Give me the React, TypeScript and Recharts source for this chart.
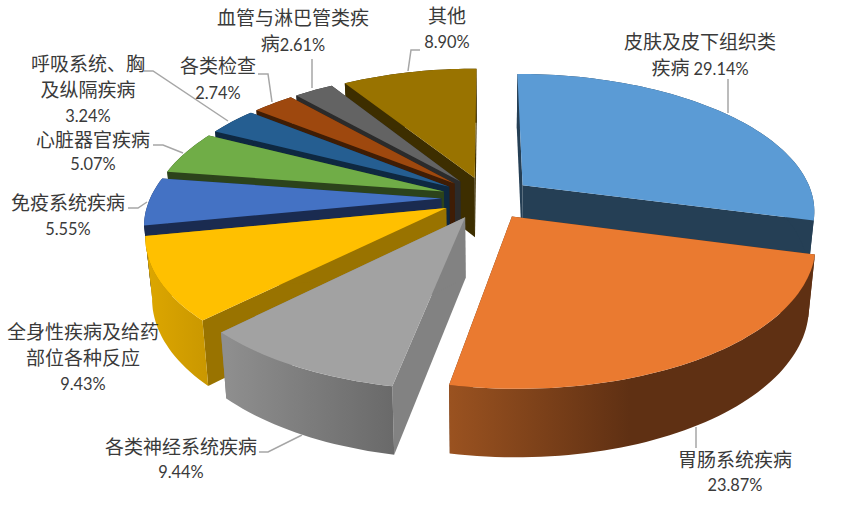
import { PieChart, Pie } from "recharts"

const categories = [
  "皮肤及皮下组织类疾病",
  "胃肠系统疾病",
  "各类神经系统疾病",
  "全身性疾病及给药部位各种反应",
  "免疫系统疾病",
  "心脏器官疾病",
  "呼吸系统、胸及纵隔疾病",
  "各类检查",
  "血管与淋巴管类疾病",
  "其他",
]
const shares = [29.14, 23.87, 9.44, 9.43, 5.55, 5.07, 3.24, 2.74, 2.61, 8.9]
const labelText = [
  ["皮肤及皮下组织类", "疾病 29.14%"],
  ["胃肠系统疾病", "23.87%"],
  ["各类神经系统疾病", "9.44%"],
  ["全身性疾病及给药", "部位各种反应", "9.43%"],
  ["免疫系统疾病", "5.55%"],
  ["心脏器官疾病", "5.07%"],
  ["呼吸系统、胸", "及纵隔疾病", "3.24%"],
  ["各类检查", "2.74%"],
  ["血管与淋巴管类疾", "病2.61%"],
  ["其他", "8.90%"],
]
const topColors = ["#5B9BD5", "#EA7A30", "#A2A2A2", "#FFC000", "#4472C4", "#70AD47", "#255E91", "#9E480E", "#636363", "#997300"]
const wallColors = ["#253F55", "#5F3013", "#828282", "#997300", "#1A2B50", "#2C431B", "#0E2841", "#3F1D05", "#2B2B2B", "#3D2E00"]

// back slices first so the near ones paint over them
const drawOrder = [9, 8, 7, 6, 5, 4, 3, 2, 0, 1]

// where each label sits: centre x, first baseline y, row gap, then its leader line
const labelLayout: { x: number; y: number; gap: number; line: string }[] = [
  { x: 700, y: 49, gap: 25.5, line: "728,113 728,79" },
  { x: 735, y: 467, gap: 24, line: "696,427 696,448" },
  { x: 181, y: 454, gap: 24, line: "302,435 268,452 259,452" },
  { x: 83, y: 339, gap: 25.5, line: "" },
  { x: 68, y: 210, gap: 24.5, line: "128,208 138,208 147,202" },
  { x: 93, y: 147, gap: 23, line: "153,145 163,145 183,153" },
  { x: 88, y: 71, gap: 25.5, line: "144,71 153,71 228,121" },
  { x: 218, y: 73, gap: 26, line: "258,74 268,74 272,102" },
  { x: 293, y: 25, gap: 25.5, line: "312,59 312,88" },
  { x: 447, y: 23, gap: 25, line: "420,50 411,50 408,71" },
]

const rimGradients: Record<number, [string, string, number, number]> = {
  1: ["#9A5220", "#5F3013", 450, 630],
  2: ["#8E8E8E", "#696969", 228, 396],
  3: ["#DDA700", "#C99700", 145, 210],
}

const EXPLODE = 0.157
const TILT = 0.464
const PERSPECTIVE = 0.175

function Slice(props: any, i: number) {
  const { cx, cy, outerRadius, startAngle, endAngle } = props
  const plane = (deg: number) => {
    const t = ((90 - deg) * Math.PI) / 180
    return [Math.sin(t), Math.cos(t)]
  }
  const [bx, by] = plane((startAngle + endAngle) / 2)
  const project = (rim: number, deg: number) => {
    const [sx, cs] = plane(deg)
    const gx = EXPLODE * bx + rim * sx
    const gy = EXPLODE * by + rim * cs
    const w = 1 + PERSPECTIVE * gy
    return [cx + (outerRadius * gx) / w, cy - (outerRadius * TILT * gy) / w]
  }
  const lower = ([x, y]: number[]) => [cx + (x - cx) * 0.98, y + 51 + 0.045 * y]
  const path = (pts: number[][]) => "M" + pts.map((p) => p[0].toFixed(1) + "," + p[1].toFixed(1)).join("L") + "Z"

  const arc: number[][] = []
  const steps = Math.max(2, Math.ceil(Math.abs(startAngle - endAngle) / 1.5))
  for (let s = 0; s <= steps; s++) {
    arc.push(project(1, startAngle + ((endAngle - startAngle) * s) / steps))
  }
  const apex = project(0, startAngle)
  const first = arc[0]
  const last = arc[arc.length - 1]
  const grad = rimGradients[i]
  const rimFill = grad ? "url(#rim" + i + ")" : wallColors[i]

  return (
    <g>
      {grad && (
        <defs>
          <linearGradient id={"rim" + i} gradientUnits="userSpaceOnUse" x1={grad[2]} x2={grad[3]} y1={0} y2={0}>
            <stop offset="0" stopColor={grad[0]} />
            <stop offset="1" stopColor={grad[1]} />
          </linearGradient>
        </defs>
      )}
      <path d={path([apex, first, lower(first), lower(apex)])} fill={wallColors[i]} />
      <path d={path([apex, last, lower(last), lower(apex)])} fill={wallColors[i]} />
      <path d={path([...arc, ...arc.map(lower).reverse()])} fill={rimFill} />
      <path d={path([apex, ...arc])} fill={topColors[i]} />
    </g>
  )
}

function renderLabel(props: any) {
  const i = categories.indexOf(props.name)
  const pos = labelLayout[i]
  return (
    <g key={i}>
      {pos.line && <polyline points={pos.line} fill="none" stroke="#A6A6A6" strokeWidth={1.5} />}
      <text textAnchor="middle" fill="#3A3A3A" fontFamily="'Noto Sans CJK SC'" fontSize={19}>
        {labelText[i].map((row, r) => (
          <tspan key={r} x={pos.x} y={pos.y + r * pos.gap}>
            {row.split(/([0-9.% ]+)/).map((run, k) =>
              /^[0-9.% ]+$/.test(run) ? (
                <tspan key={k} fontFamily="Lato" fontSize={16.4}>
                  {run}
                </tspan>
              ) : (
                run
              ),
            )}
          </tspan>
        ))}
      </text>
    </g>
  )
}

export default function App() {
  const data = categories.map((name, i) => ({ name, value: shares[i] }))
  const common = {
    data,
    dataKey: "value",
    nameKey: "name",
    cx: 487,
    cy: 198,
    outerRadius: 291,
    startAngle: 90,
    endAngle: -270,
    stroke: "none",
    isAnimationActive: false,
  }

  return (
    <div style={{ position: "absolute", left: 0, top: 0, background: "#fff" }}>
      <PieChart width={867} height={505} margin={{ top: 0, right: 0, bottom: 0, left: 0 }}>
        {drawOrder.map((idx) => (
          <Pie
            key={idx}
            {...common}
            labelLine={false}
            shape={(p: any) => (p.name === categories[idx] ? Slice(p, idx) : <g />)}
          />
        ))}
        <Pie key="labels" {...common} labelLine={false} label={renderLabel} shape={() => <g />} />
      </PieChart>
    </div>
  )
}
